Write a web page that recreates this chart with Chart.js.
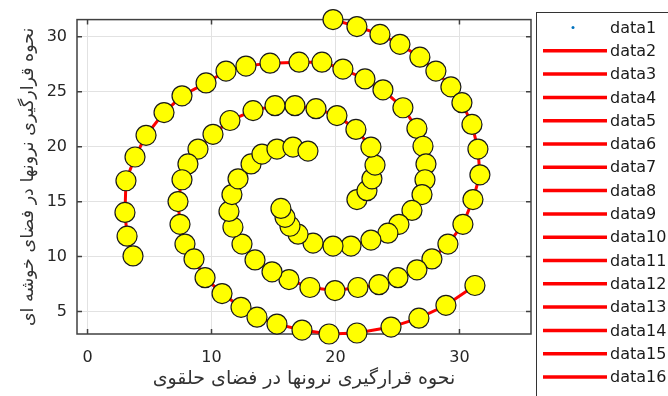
<!DOCTYPE html>
<html><head><meta charset="utf-8">
<script src="https://cdn.jsdelivr.net/npm/chart.js@4"></script>
<style>html,body{margin:0;padding:0;background:#fff;}#wrap{width:668px;height:396px;position:relative;}</style>
</head><body><div id="wrap"><canvas id="c" width="668" height="396"></canvas></div>
<script>
// Arm A: inner end -> top -> left -> bottom -> outer end (bottom right)
const armAx = [21.73,22.54,22.94,23.19,22.86,21.65,20.12,18.43,16.73,15.12,13.35,11.49,10.12,8.91,8.10,7.62,7.30,7.46,7.86,8.59,9.48,10.85,12.38,13.67,15.28,17.30,19.48,21.73,24.48,26.73,28.91,31.25];
const armAy = [15.19,16.00,17.08,18.33,19.96,21.57,22.83,23.46,23.73,23.73,23.28,22.38,21.12,19.78,18.43,16.99,15.01,12.94,11.14,9.79,8.08,6.64,5.39,4.49,3.86,3.32,2.96,3.05,3.59,4.40,5.57,7.37];
// Arm B: outer end (left) -> top -> right -> bottom -> inner end
const armBx = [3.67,3.19,3.02,3.10,3.83,4.72,6.17,7.62,9.56,11.17,12.78,14.72,17.06,18.91,20.60,22.38,23.83,25.44,26.57,27.06,27.30,27.22,26.98,26.17,25.12,24.23,22.86,21.25,19.80,18.19,16.98,16.33,15.93,15.60];
const armBy = [10.06,11.86,14.02,16.90,19.06,21.03,23.10,24.63,25.80,26.88,27.33,27.60,27.69,27.69,27.06,26.16,25.17,23.54,21.66,20.04,18.43,16.99,15.64,14.20,12.94,12.13,11.50,10.96,10.96,11.23,12.04,12.76,13.57,14.38];
// Arm C: outer end (top) -> right -> bottom -> left -> inner end
const armCx = [19.80,21.73,23.59,25.20,26.81,28.10,29.31,30.20,31.01,31.49,31.65,31.09,30.28,29.07,27.78,26.57,25.04,23.51,21.81,19.96,17.94,16.25,14.88,13.51,12.46,11.73,11.41,11.65,12.14,13.19,14.07,15.28,16.57,17.78];
const armCy = [31.56,30.93,30.21,29.31,28.14,26.88,25.44,24.00,22.02,19.78,17.44,15.19,12.94,11.14,9.79,8.80,8.08,7.45,7.19,6.91,7.19,7.91,8.62,9.70,11.14,12.67,14.11,15.64,17.08,18.43,19.33,19.78,19.96,19.60];

const xTicks = [0,10,20,30];
const yTicks = [5,10,15,20,25,30];
const legendLabels = ['data1','data2','data3','data4','data5','data6','data7','data8','data9','data10','data11','data12','data13','data14','data15','data16'];
const xLabel = 'نحوه قرارگیری نرونها در فضای حلقوی';
const yLabel = 'نحوه قرارگیری نرونها در فضای خوشه ای';

const arms = [[armAx,armAy],[armBx,armBy],[armCx,armCy]];
const allPts = [];
arms.forEach(([xs,ys]) => xs.forEach((x,i) => allPts.push({x:x, y:ys[i]})));
const segs = [];
arms.forEach(([xs,ys]) => {
  const n = xs.length;
  for (let k = 0; k < 5; k++) {
    const a = Math.round(k*(n-1)/5), b = Math.round((k+1)*(n-1)/5);
    const pts = [];
    for (let i = a; i <= b; i++) pts.push({x:xs[i], y:ys[i]});
    segs.push(pts);
  }
});

const FONT = 'DejaVu Sans';
const datasets = [
  {label:'neurons', data:allPts, type:'scatter', pointRadius:10, pointBackgroundColor:'#ffff00', pointBorderColor:'#1a1a1a', pointBorderWidth:1.2, order:0, clip:false}
].concat(segs.map((d,i) => ({label:legendLabels[i+1], data:d, type:'line', showLine:true, borderColor:'#ff0000', borderWidth:3, pointRadius:0, tension:0, order:1, clip:false, fill:false})))
 .concat([{label:legendLabels[0], data:allPts, type:'scatter', pointRadius:1.5, pointBackgroundColor:'#0072bd', pointBorderWidth:0, order:2, clip:false}]);

const framePlugin = {
  id:'frame',
  beforeDatasetsDraw(chart){
    const {ctx, chartArea:a, scales:{x,y}} = chart;
    ctx.save();
    ctx.strokeStyle = '#404040'; ctx.lineWidth = 1.5;
    ctx.beginPath();
    xTicks.forEach(v => { const p = x.getPixelForValue(v); ctx.moveTo(p,a.bottom); ctx.lineTo(p,a.bottom-5); ctx.moveTo(p,a.top); ctx.lineTo(p,a.top+5); });
    yTicks.forEach(v => { const p = y.getPixelForValue(v); ctx.moveTo(a.left,p); ctx.lineTo(a.left+5,p); ctx.moveTo(a.right,p); ctx.lineTo(a.right-5,p); });
    ctx.stroke();
    ctx.strokeRect(a.left, a.top, a.right-a.left, a.bottom-a.top);
    ctx.restore();
  }
};
const legendPlugin = {
  id:'mlegend',
  afterDraw(chart){
    const ctx = chart.ctx;
    ctx.save();
    ctx.fillStyle = '#fff'; ctx.fillRect(536,13,200,400);
    ctx.strokeStyle = '#333'; ctx.lineWidth = 1; ctx.strokeRect(536.5,12.5,200,400);
    ctx.font = '16px "' + FONT + '"'; ctx.textBaseline = 'middle'; ctx.textAlign = 'left';
    legendLabels.forEach((lab,i) => {
      const yy = 27.5 + i*23.3;
      if (i === 0) {
        ctx.fillStyle = '#0072bd'; ctx.beginPath(); ctx.arc(573, yy, 1.5, 0, Math.PI*2); ctx.fill();
      } else {
        ctx.strokeStyle = '#ff0000'; ctx.lineWidth = 3.5; ctx.beginPath(); ctx.moveTo(543,yy); ctx.lineTo(607,yy); ctx.stroke();
      }
      ctx.fillStyle = '#1a1a1a'; ctx.fillText(lab, 610, yy+1);
    });
    ctx.restore();
  }
};

new Chart(document.getElementById('c'), {
  type:'scatter',
  data:{datasets:datasets},
  plugins:[framePlugin, legendPlugin],
  options:{
    responsive:false, animation:false, devicePixelRatio:1, events:[],
    layout:{padding:{left:0, top:16, right:137, bottom:0}},
    plugins:{legend:{display:false}, tooltip:{enabled:false}},
    scales:{
      x:{type:'linear', min:-0.85, max:35.77,
        afterBuildTicks:s => { s.ticks = xTicks.map(v => ({value:v})); },
        afterFit:s => { s.height = 62; },
        grid:{color:'#e2e2e2', drawTicks:false, lineWidth:1}, border:{display:false},
        ticks:{padding:14, maxRotation:0, color:'#262626', font:{family:FONT, size:16}, callback:v => String(v)},
        title:{display:true, text:xLabel, color:'#333', font:{family:FONT, size:19}, padding:{top:0, bottom:6}}
      },
      y:{type:'linear', min:2.96, max:31.56,
        afterBuildTicks:s => { s.ticks = yTicks.map(v => ({value:v})); },
        afterFit:s => { s.width = 77; },
        grid:{color:'#e2e2e2', drawTicks:false, lineWidth:1}, border:{display:false},
        ticks:{padding:10, color:'#262626', font:{family:FONT, size:16}, callback:v => String(v)},
        title:{display:true, text:yLabel, color:'#333', font:{family:FONT, size:17.5}, padding:{top:18, bottom:0}}
      }
    }
  }
});
</script></body></html>
